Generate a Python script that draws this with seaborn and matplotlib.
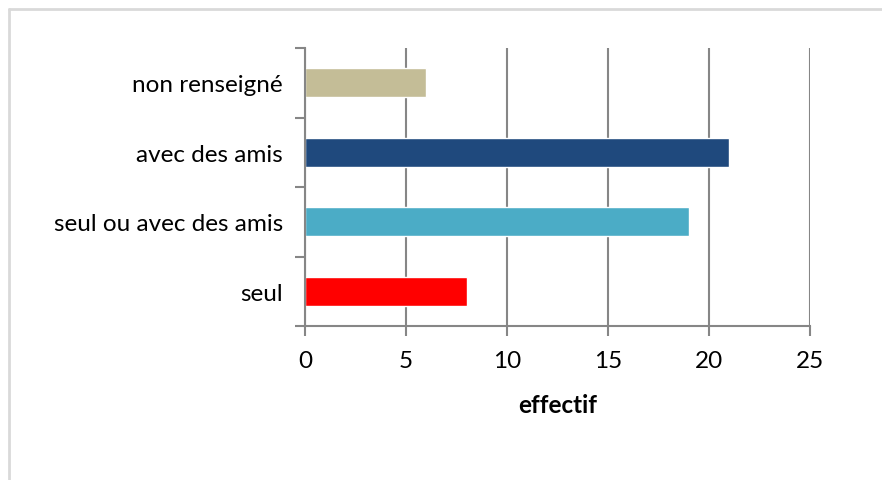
import matplotlib
matplotlib.use("Agg")
import matplotlib.pyplot as plt
from matplotlib.lines import Line2D
import seaborn as sns
import pandas as pd

categories = ["non renseigné", "avec des amis", "seul ou avec des amis", "seul"]
values = [6, 21, 19, 8]
colors = ["#C4BD97", "#1F497D", "#4BACC6", "#FF0000"]
xticks = [0, 5, 10, 15, 20, 25]
xlabel = "effectif"

sns.set_theme(style="white")
plt.rcParams["font.family"] = ["Lato", "DejaVu Sans"]

df = pd.DataFrame({"categorie": categories, "effectif": values})

fig = plt.figure(figsize=(8.82, 4.81), dpi=100)
ax = fig.add_axes([305 / 882, 1 - 327 / 481, 505 / 882, 278 / 481])

sns.barplot(data=df, y="categorie", x="effectif", hue="categorie",
            palette=colors, order=categories, hue_order=categories,
            orient="h", width=0.42, saturation=1, legend=False, ax=ax)

grey = "#868686"
fs = 17.5
ax.set_xlim(0, 25)
ax.set_ylim(3.5, -0.5)
ax.set_xticks(xticks)
ax.set_xticklabels([str(t) for t in xticks], fontsize=fs, color="black")
ax.xaxis.grid(True, color=grey, linewidth=1.5)
ax.yaxis.grid(False)
ax.set_axisbelow(True)

# category labels at bar centres, tick marks at category boundaries
ax.set_yticks(range(len(categories)))
ax.set_yticklabels(categories, fontsize=fs, color="black")
ax.set_yticks([i - 0.5 for i in range(len(categories) + 1)], minor=True)
ax.tick_params(axis="y", which="major", left=True, length=0, pad=16)
ax.tick_params(axis="y", which="minor", left=True, length=7, width=1.5, color=grey, direction="out")
ax.tick_params(axis="x", which="major", bottom=True, length=7, width=1.5, color=grey,
               direction="out", pad=10)

for side in ("top", "right"):
    ax.spines[side].set_visible(False)
for side in ("left", "bottom"):
    ax.spines[side].set_color(grey)
    ax.spines[side].set_linewidth(1.5)

ax.set_ylabel("")
ax.set_xlabel(xlabel, fontsize=fs, fontweight="bold", labelpad=16, color="black")

# light frame along top and left edges of the figure
fig.add_artist(Line2D([9 / 882, 1], [1 - 10 / 481, 1 - 10 / 481], transform=fig.transFigure,
                      color="#D9D9D9", linewidth=2))
fig.add_artist(Line2D([9 / 882, 9 / 882], [0, 1 - 10 / 481], transform=fig.transFigure,
                      color="#D9D9D9", linewidth=2))

fig.savefig("out.png", dpi=100, facecolor="white")
